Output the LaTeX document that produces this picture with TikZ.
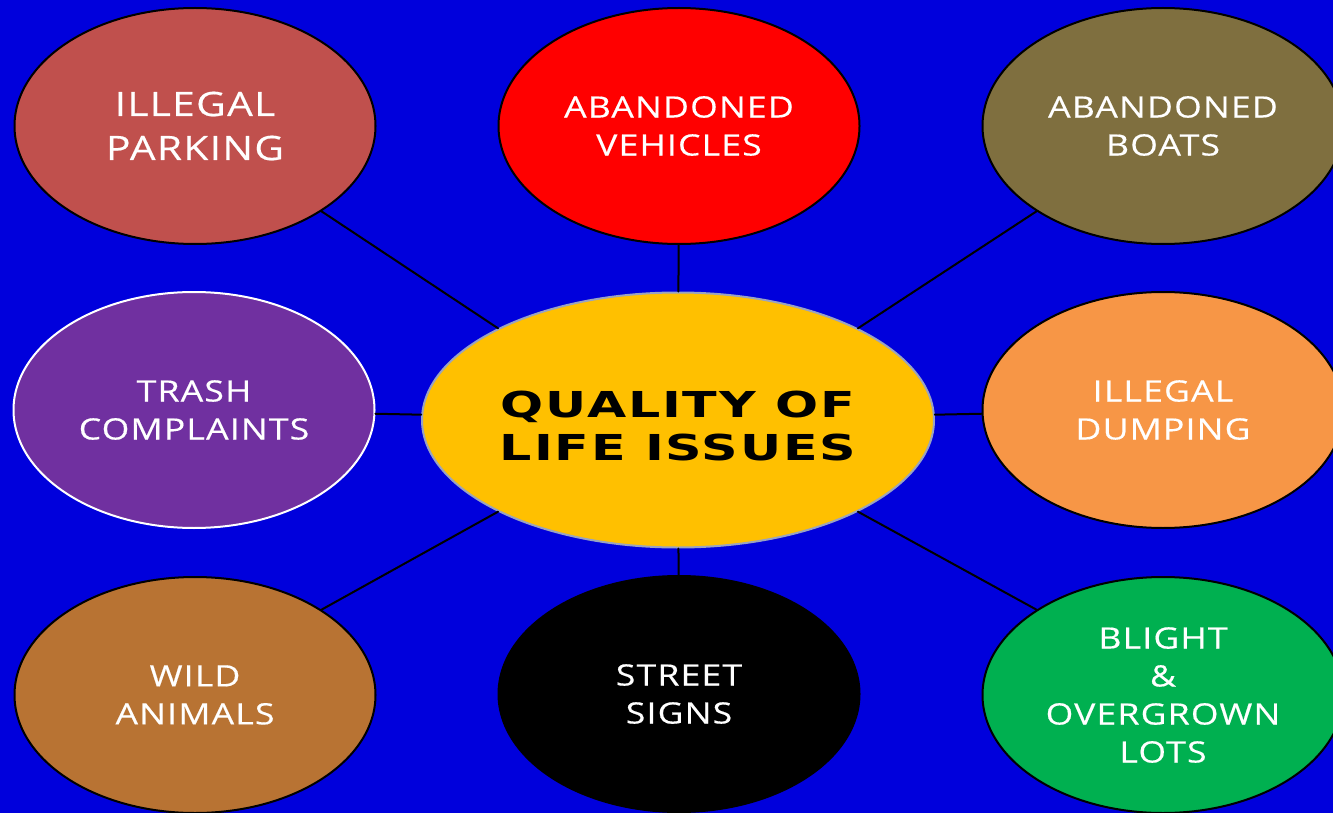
\documentclass[tikz,border=0pt]{standalone}
\usepackage{fontspec}
\usetikzlibrary{shapes}
\newfontfamily\bubblefont[FakeStretch=1.21,LetterSpace=4,FakeBold=0.4]{Open Sans}
\newfontfamily\hubfont[FakeStretch=1.42,LetterSpace=5]{DejaVu Sans Bold}
\definecolor{slide}{HTML}{0000DC}
\definecolor{parkingc}{HTML}{C0504D}
\definecolor{boatsc}{HTML}{7F6F3F}
\definecolor{trashc}{HTML}{7030A0}
\definecolor{hubc}{HTML}{FFC000}
\definecolor{hubline}{HTML}{9AA3C0}
\definecolor{dumpingc}{HTML}{F79646}
\definecolor{animalsc}{HTML}{B87333}
\definecolor{blightc}{HTML}{00B050}

\begin{document}
\begin{tikzpicture}[x=1pt, y=-1pt, line cap=round, line join=round,
  bubble/.style={ellipse, draw=black, line width=2pt, text=white, align=center,
    minimum width=361pt, minimum height=236pt, inner sep=0pt,
    font=\bubblefont\fontsize{29.4}{38}\selectfont},
  link/.style={line width=2pt, black}]

\fill[slide] (0,0) rectangle (1333,813);
\clip (0,0) rectangle (1333,813);

\node[ellipse, fill=hubc, draw=hubline, line width=2pt,
  minimum width=512pt, minimum height=255pt, inner sep=0pt] (quality) at (678,420) {};
\node at (678,430) {\hubfont\fontsize{35.7}{43}\selectfont\begin{tabular}{@{}c@{}}QUALITY OF\\LIFE ISSUES\end{tabular}};

\node[bubble, fill=parkingc, font=\bubblefont\fontsize{33.6}{44}\selectfont] (parking) at (195,126) {ILLEGAL\\PARKING};
\node[bubble, fill=red] (vehicles) at (679,126) {ABANDONED\\VEHICLES};
\node[bubble, fill=boatsc] (boats) at (1163,126) {ABANDONED\\BOATS};

\node[bubble, fill=trashc, draw=white] (trash) at (194,410) {TRASH\\COMPLAINTS};
\node[bubble, fill=dumpingc] (dumping) at (1163,410) {ILLEGAL\\DUMPING};

\node[bubble, fill=animalsc] (animals) at (195,695) {WILD\\ANIMALS};
\node[bubble, fill=black] (signs) at (679,694) {STREET\\SIGNS};
\node[bubble, fill=blightc] (blight) at (1163,695) {BLIGHT\\\&\\OVERGROWN\\LOTS};

\draw[link] (quality.153) -- (parking.326);
\draw[link] (quality) -- (vehicles);
\draw[link] (quality.27) -- (boats.214);
\draw[link] (quality) -- (trash);
\draw[link] (quality) -- (dumping);
\draw[link] (quality.207) -- (animals.34);
\draw[link] (quality) -- (signs);
\draw[link] (quality.333) -- (blight.146);
\end{tikzpicture}
\end{document}
